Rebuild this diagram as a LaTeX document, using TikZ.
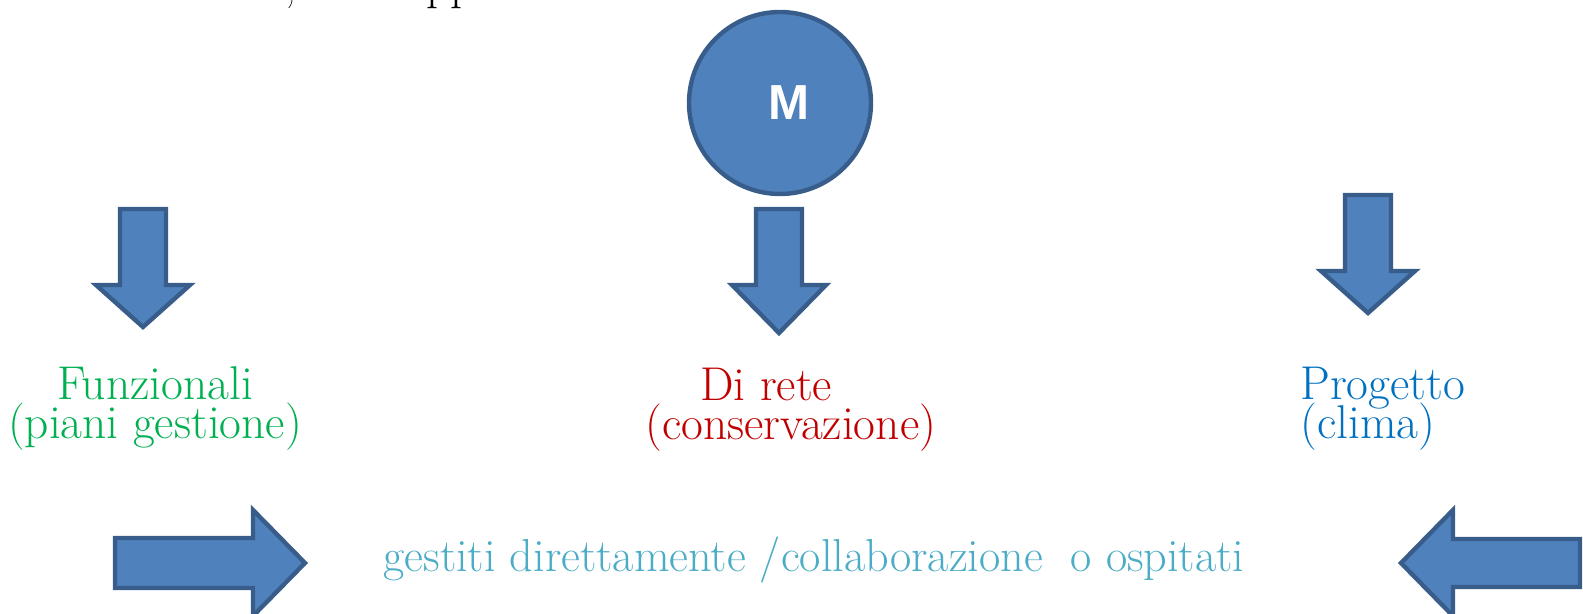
\documentclass[tikz,border=0pt]{standalone}
\usepackage{fontspec}
\usepackage{tikz}
\newfontfamily\badgefont{Liberation Sans}

\definecolor{shapefill}{HTML}{4F81BD}
\definecolor{shapeline}{HTML}{385D8A}
\definecolor{funzgreen}{HTML}{00B050}
\definecolor{retered}{HTML}{C00000}
\definecolor{progblue}{HTML}{0070C0}
\definecolor{gestaqua}{HTML}{4BACC6}

\begin{document}
\begin{tikzpicture}[x=0.02cm, y=-0.02cm,
  blockshape/.style ={draw=shapeline, fill=shapefill, line width=2.5pt, line join=miter},
  textline/.style ={font=\fontsize{27}{22.4}\selectfont, inner sep=0pt, anchor=base},
  pics/downarrow/.style ={code={
    \draw[blockshape] (-23,0) -- (23,0) -- (23,76) -- (47,76) -- (0,{76+#1})
      -- (-47,76) -- (-23,76) -- cycle;}},
  pics/downarrow/.default=42]
 \useasboundingbox (0,0) rectangle (1583,614);

 % cut heading line
 \node[font=\fontsize{27}{30}\selectfont, inner sep=0pt, anchor=base west] (headcomma) at (284,-0.5) {,};
 \node[font=\fontsize{27}{30}\selectfont, inner sep=0pt, anchor=base west] (headpp) at (426,-0.5) {pp};

 \node[circle, blockshape, minimum size=3.64cm, inner sep=0pt, text=white,
   font=\badgefont\bfseries\fontsize{28}{30}\selectfont] (M) at (780,103) {\hspace{10pt}M};

 \pic at (143,209) {downarrow};
 \pic at (779,209) {downarrow=48};
 \pic at (1368,195) {downarrow};

 \node[textline, text=funzgreen, align=center] (funz) at (155,439) {Funzionali\\(piani gestione)};
 \node[textline, text=retered, align=left, anchor=base west] (rete) at (645,440) {\hspace{1.1cm}Di rete\\(conservazione)};
 \node[textline, text=progblue, align=left, anchor=base west] (prog) at (1300,439) {Progetto\\[-4.1pt](clima)};

 \draw[blockshape] (115,538) -- (253,538) -- (253,510) -- (305,563) -- (253,616)
   -- (253,588) -- (115,588) -- cycle;
 \draw[blockshape] (1401,563) -- (1453,510) -- (1453,539) -- (1580,539) -- (1580,587)
   -- (1453,587) -- (1453,616) -- cycle;

 \node[textline, text=gestaqua, font=\fontsize{26.3}{30}\selectfont] (gest) at (814,572) {gestiti direttamente /collaborazione~ o ospitati};
\end{tikzpicture}
\end{document}
